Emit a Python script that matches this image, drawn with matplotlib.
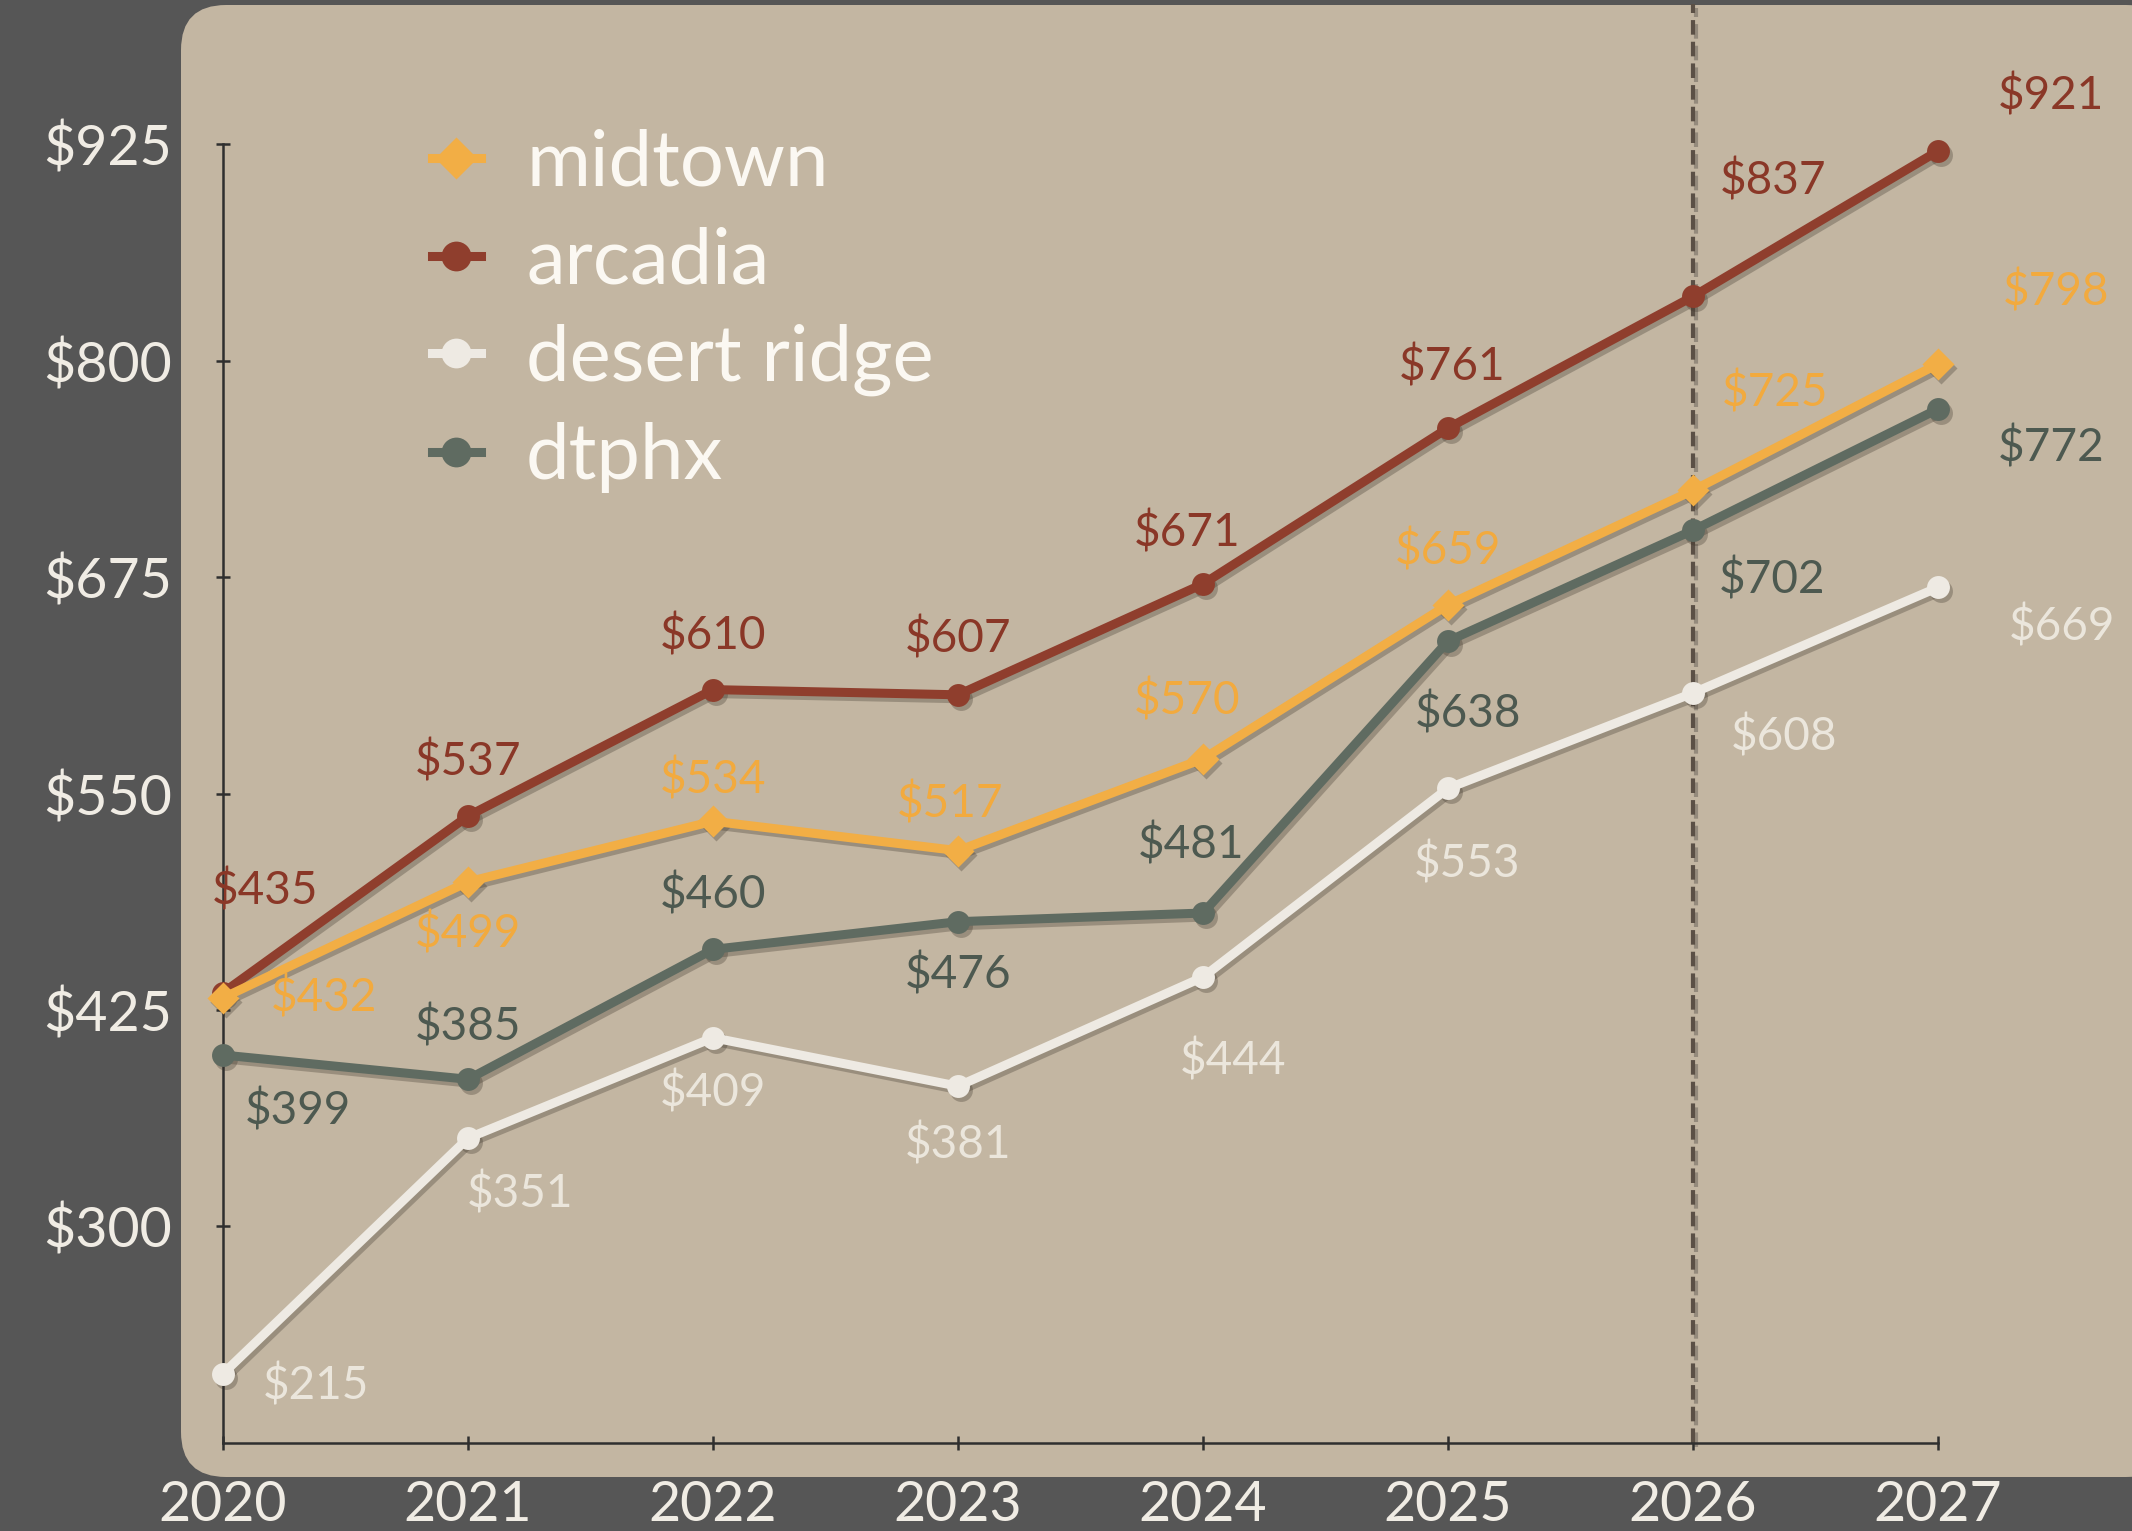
import matplotlib
matplotlib.use('Agg')
import matplotlib.pyplot as plt
from matplotlib.patches import FancyBboxPatch
from matplotlib import transforms

plt.rcParams['font.family'] = ['Lato', 'DejaVu Sans']

years = [2020, 2021, 2022, 2023, 2024, 2025, 2026, 2027]
midtown = [432, 499, 534, 517, 570, 659, 725, 798]
arcadia = [435, 537, 610, 607, 671, 761, 837, 921]
desert_ridge = [215, 351, 409, 381, 444, 553, 608, 669]
dtphx = [399, 385, 460, 476, 481, 638, 702, 772]
y_ticks = [300, 425, 550, 675, 800, 925]
y_tick_labels = ['$300', '$425', '$550', '$675', '$800', '$925']

# label offsets in points (x, y) for every point
off_midtown = [(74, 0), (0, -38), (0, 31), (-6, 35), (-12, 43), (0, 40), (60, 72), (87, 53)]
off_arcadia = [(31, 75), (0, 40), (0, 40), (0, 41), (-12, 38), (3, 45), (59, 85), (83, 41)]
off_desert = [(68, -9), (38, -41), (0, -40), (0, -43), (22, -61), (14, -55), (67, -32), (91, -29)]
off_dtphx = [(55, -41), (0, 39), (0, 40), (0, -39), (-9, 50), (15, -53), (58, -36), (83, -28)]

series = [
    # name, values, line colour, label colour, marker, offsets, zorder
    ('desert ridge', desert_ridge, '#eeeae3', '#ebe6dc', 'o', off_desert, 4),
    ('dtphx', dtphx, '#5f6b61', '#4d5950', 'o', off_dtphx, 5),
    ('arcadia', arcadia, '#8f3e2d', '#8a3727', 'o', off_arcadia, 6),
    ('midtown', midtown, '#f2ae45', '#f2aa3e', 'D', off_midtown, 7),
]
legend_order = ['midtown', 'arcadia', 'desert ridge', 'dtphx']

fig = plt.figure(figsize=(21.32, 15.31), dpi=100)
fig.patch.set_facecolor('#565656')

panel = FancyBboxPatch((1.81, 0.54), 19.9, 14.72,
                       boxstyle='round,pad=0,rounding_size=0.45',
                       transform=fig.dpi_scale_trans,
                       fc='#c3b6a2', ec='none', zorder=0)
fig.add_artist(panel)

ax = fig.add_axes([0.1046, 0.0575, 0.8044, 0.8484])
ax.set_facecolor('none')
ax.set_xlim(2020, 2027)
ax.set_ylim(175, 925)

shadow = transforms.offset_copy(ax.transData, fig=fig, x=3, y=-4, units='dots')

# forecast divider at 2026
ax.plot([2026, 2026], [175, 1006], color='#3e3a35', alpha=0.35, lw=3,
        dashes=(3.5, 1.7), transform=shadow, clip_on=False, zorder=2)
ax.plot([2026, 2026], [175, 1006], color='#5b5046', lw=3,
        dashes=(3.5, 1.7), clip_on=False, zorder=3)

handles = {}
for name, vals, col, lcol, mk, offs, z in series:
    ax.plot(years, vals, color='#3b3228', alpha=0.3, lw=6.5, marker=mk,
            ms=16.5, mec='none', transform=shadow, zorder=z - 0.5,
            solid_capstyle='round', clip_on=False)
    line, = ax.plot(years, vals, color=col, lw=6.5, marker=mk, ms=16.5,
                    mec='none', zorder=z, label=name, clip_on=False)
    handles[name] = line
    for x, v, (dx, dy) in zip(years, vals, offs):
        ax.annotate(f'${v}', (x, v), xytext=(dx * 0.98, dy * 0.98),
                    textcoords='offset points', ha='center', va='center',
                    fontsize=33, color=lcol, zorder=10)

for side in ['top', 'right']:
    ax.spines[side].set_visible(False)
for side in ['left', 'bottom']:
    ax.spines[side].set_color('#2f2f2f')
    ax.spines[side].set_linewidth(1.8)
    ax.spines[side].set_zorder(3)

ax.set_xticks(years)
ax.set_xticklabels([str(y) for y in years])
ax.set_yticks(y_ticks)
ax.set_yticklabels(y_tick_labels)
ax.tick_params(axis='both', direction='inout', length=10, width=1.8,
               color='#2f2f2f', labelsize=40, labelcolor='#f0ece4')
ax.tick_params(axis='y', pad=32)
ax.tick_params(axis='x', pad=22)

leg = ax.legend([handles[n] for n in legend_order], legend_order,
                loc='upper left', bbox_to_anchor=(0.2026, 0.916),
                bbox_transform=fig.transFigure, frameon=False,
                fontsize=56, handlelength=0.63, handletextpad=0.58,
                labelspacing=0.34, borderpad=0, borderaxespad=0,
                markerscale=1.3)
for t in leg.get_texts():
    t.set_color('#fbf8f2')

fig.savefig('out.png', dpi=100, facecolor=fig.get_facecolor())
